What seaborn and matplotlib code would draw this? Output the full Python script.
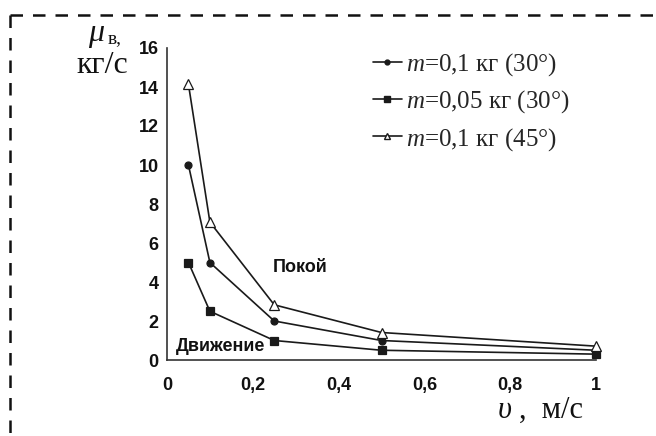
import matplotlib
matplotlib.use("Agg")
import matplotlib.pyplot as plt
import seaborn as sns
import pandas as pd
from matplotlib.lines import Line2D

speed = [0.05, 0.1, 0.25, 0.5, 1.0]
mu_m01_30 = [10.0, 5.0, 2.0, 1.0, 0.5]
mu_m005_30 = [5.0, 2.5, 1.0, 0.5, 0.3]
mu_m01_45 = [14.14, 7.07, 2.83, 1.41, 0.71]
series_names = ["m=0,1 кг (30°)", "m=0,05 кг (30°)", "m=0,1 кг (45°)"]
legend_labels = [r"$m$=0,1 кг (30°)", r"$m$=0,05 кг (30°)", r"$m$=0,1 кг (45°)"]
x_ticks = [0, 0.2, 0.4, 0.6, 0.8, 1.0]
x_tick_labels = ["0", "0,2", "0,4", "0,6", "0,8", "1"]
y_ticks = [0, 2, 4, 6, 8, 10, 12, 14, 16]

df = pd.DataFrame({
    "v": speed * 3,
    "mu": mu_m01_30 + mu_m005_30 + mu_m01_45,
    "series": [series_names[0]] * 5 + [series_names[1]] * 5 + [series_names[2]] * 5,
})

sns.set_theme(style="white")
plt.rcParams["font.family"] = ["Liberation Sans", "DejaVu Sans"]
plt.rcParams["mathtext.fontset"] = "custom"
plt.rcParams["mathtext.it"] = "Liberation Serif:italic"
plt.rcParams["mathtext.rm"] = "Liberation Serif"

W, H = 656, 436
fig = plt.figure(figsize=(W / 100, H / 100), dpi=100)
ax = fig.add_axes([167 / W, 1 - 360 / H, (596 - 167) / W, (360 - 48) / H])

col = "#1a1a1a"
markers = {series_names[0]: "o", series_names[1]: "s", series_names[2]: "^"}
sizes = {series_names[0]: 5, series_names[1]: 5.5, series_names[2]: 6.5}
for name in series_names:
    sub = df[df["series"] == name]
    face = "white" if markers[name] == "^" else col
    sns.lineplot(data=sub, x="v", y="mu", ax=ax, color=col, lw=1.2,
                 marker=markers[name], markersize=sizes[name],
                 markerfacecolor=face, markeredgecolor=col, markeredgewidth=0.9,
                 legend=False, clip_on=False, zorder=3)

ax.set_xlim(0, 1)
ax.set_ylim(0, 16)
ax.set_xticks(x_ticks)
ax.set_xticklabels(x_tick_labels)
ax.set_yticks(y_ticks)
for lab in ax.get_xticklabels() + ax.get_yticklabels():
    lab.set_fontweight("bold")
    lab.set_fontsize(13)
    lab.set_color("#111111")
ax.tick_params(axis="both", direction="out", length=4, width=1, color="#333333", pad=2)
ax.tick_params(axis="x", pad=8)
for s in ["top", "right"]:
    ax.spines[s].set_visible(False)
for s in ["left", "bottom"]:
    ax.spines[s].set_color("#333333")
    ax.spines[s].set_linewidth(1.2)
ax.set_xlabel("")
ax.set_ylabel("")

ax.text(0.31, 4.74, "Покой", fontsize=13, fontweight="bold", ha="center", va="center", color="#111111")
ax.text(0.125, 0.69, "Движение", fontsize=13, fontweight="bold", ha="center", va="center", color="#111111")

# y-axis label
fig.text(88 / W, 1 - 41 / H, r"$\mu$", fontsize=23, ha="left", va="baseline", color="#111111")
fig.text(108 / W, 1 - 43 / H, "в,", fontsize=14, family="Liberation Serif", ha="left", va="baseline", color="#111111")
fig.text(76 / W, 1 - 73 / H, "кг/с", fontsize=23, family="Liberation Serif", ha="left", va="baseline", color="#111111")
# x-axis label
fig.text(497 / W, 1 - 418 / H, r"$\upsilon$", fontsize=22, ha="left", va="baseline", color="#111111")
fig.text(519 / W, 1 - 418 / H, ",  м/с", fontsize=22, family="Liberation Serif", ha="left", va="baseline", color="#111111")

handles = [
    Line2D([], [], color=col, lw=1.2, marker="o", markersize=3.5, markerfacecolor=col),
    Line2D([], [], color=col, lw=1.2, marker="s", markersize=4, markerfacecolor=col),
    Line2D([], [], color=col, lw=1.2, marker="^", markersize=4.5, markerfacecolor="white", markeredgecolor=col),
]
leg = fig.legend(handles, legend_labels, loc="upper left", bbox_to_anchor=(373 / W, 1 - 51 / H),
                 frameon=False, handlelength=1.15, handletextpad=0.15, labelspacing=0.42,
                 borderpad=0, borderaxespad=0,
                 prop={"family": "Liberation Serif", "size": 18})

# dashed border
ls = (0, (5, 4))
fig.add_artist(Line2D([10 / W, 1.0], [1 - 15 / H, 1 - 15 / H], transform=fig.transFigure,
                      color="#111111", lw=1.8, ls=ls))
fig.add_artist(Line2D([10 / W, 10 / W], [1 - 15 / H, 0.0], transform=fig.transFigure,
                      color="#111111", lw=1.8, ls=ls))

fig.savefig("out.png", dpi=100)
